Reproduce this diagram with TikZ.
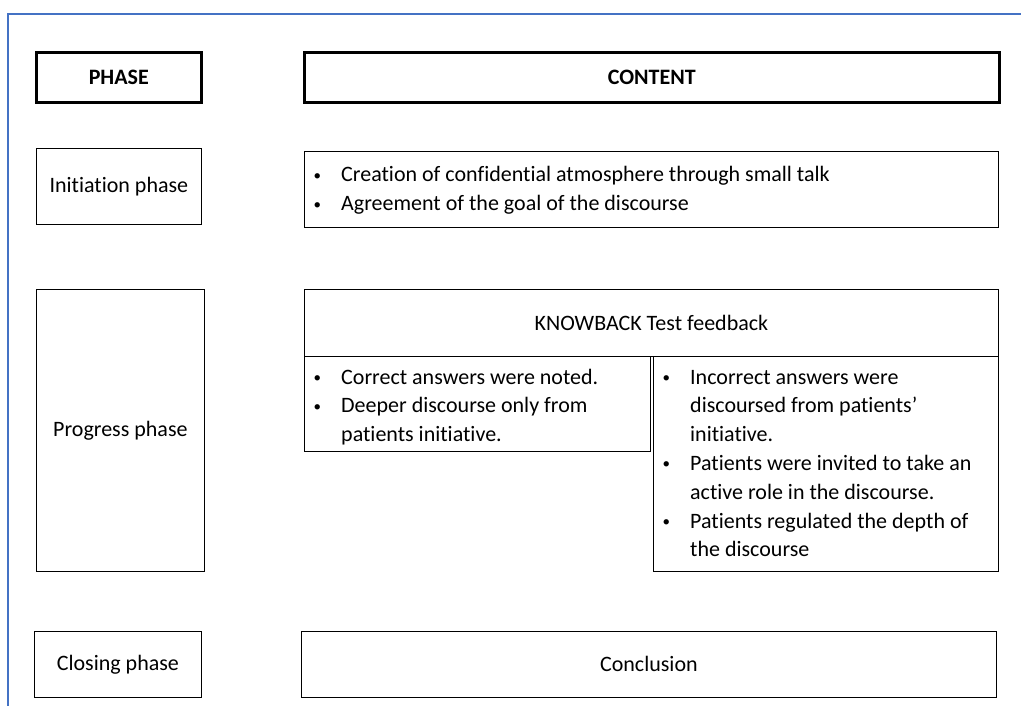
\documentclass[tikz,border=0pt]{standalone}
\usepackage{fontspec}
\setmainfont{Carlito}[Ligatures=NoCommon]
\definecolor{frameblue}{RGB}{68,114,196}
\newcommand\bul{\hspace{3.5pt}\raisebox{1.5pt}{\fontsize{15}{15}\selectfont•}}
\begin{document}
\begin{tikzpicture}[x=1pt,y=-1pt,
  box/.style={draw, line width=0.8pt, inner sep=0pt, anchor=north west, font=\fontsize{22}{29}\selectfont},
  headbox/.style={box, line width=2.6pt, font=\fontsize{22}{29}\selectfont\bfseries},
  bultext/.style={anchor=base west, inner sep=0pt, font=\fontsize{22}{28.8}\selectfont}]
\useasboundingbox (0,0) rectangle (1021,706);
\draw[frameblue, line width=1.4pt] (1021,14) -- (8,14) -- (8,706);
% headers
\node[headbox, minimum width=165, minimum height=50] (phase) at (35,51) {PHASE};
\node[headbox, minimum width=695, minimum height=50] (content) at (303,51) {CONTENT};
% initiation
\node[box, minimum width=165, minimum height=76] (init) at (36,148) {Initiation phase};
\node[box, minimum width=694, minimum height=76] (initc) at (304,151) {};
\node[bultext] (initt) at (310,182) {\begin{tabular}[t]{@{}p{31pt}@{}l@{}}
\bul & Creation of confidential atmosphere through small talk\\
\bul & Agreement of the goal of the discourse
\end{tabular}};
% progress
\node[box, minimum width=168, minimum height=282] (prog) at (36,289) {Progress phase};
\node[box, minimum width=694, minimum height=67] (kb) at (304,289) {KNOWBACK Test feedback};
\node[box, minimum width=346, minimum height=95] (left) at (304,356) {};
\node[box, minimum width=345, minimum height=215] (right) at (653,356) {};
\node[bultext] (leftt) at (310,384) {\begin{tabular}[t]{@{}p{31pt}@{}l@{}}
\bul & Correct answers were noted.\\
\bul & Deeper discourse only from\\
 & patients initiative.
\end{tabular}};
\node[bultext] (rightt) at (659,384) {\begin{tabular}[t]{@{}p{31pt}@{}l@{}}
\bul & Incorrect answers were\\
 & discoursed from patients’\\
 & initiative.\\
\bul & Patients were invited to take an\\
 & active role in the discourse.\\
\bul & Patients regulated the depth of\\
 & the discourse
\end{tabular}};
% closing
\node[box, minimum width=167, minimum height=66] (close) at (34,631) {Closing phase};
\node[box, minimum width=695, minimum height=66] (concl) at (301,631) {Conclusion};
\end{tikzpicture}
\end{document}
